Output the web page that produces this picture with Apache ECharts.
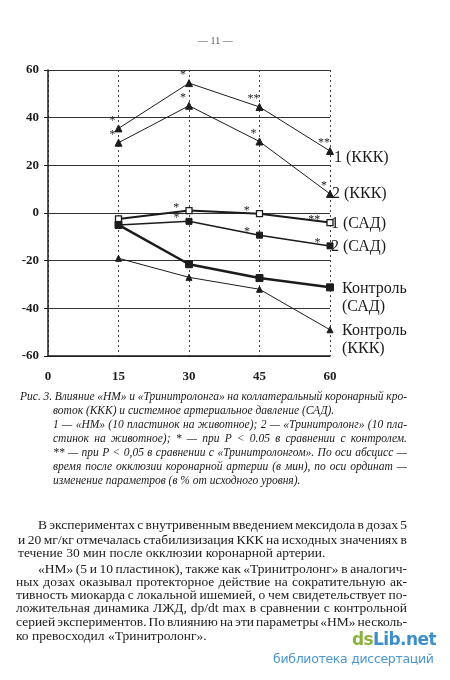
<!DOCTYPE html>
<html>
<head>
<meta charset="utf-8">
<script src="https://cdn.jsdelivr.net/npm/echarts@6/dist/echarts.min.js"></script>
<style>
  html, body { margin:0; padding:0; background:#fff; }
  #wrap { position:relative; width:450px; height:680px; overflow:hidden; }
  #chart { position:absolute; left:0; top:0; width:450px; height:680px; }
  .t { position:absolute; white-space:nowrap; color:#1a1a1a; }
  .cap { font-family:"Liberation Serif","DejaVu Serif",serif; font-style:italic; font-size:11.5px; line-height:14px; }
  .body { font-family:"Liberation Serif","DejaVu Serif",serif; font-size:13.5px; line-height:14px; color:#202020; }
</style>
</head>
<body>
<div id="wrap">
  <div id="chart"></div>
  <div class="t" style="left:198px;top:35px;font:10px 'Liberation Serif',serif;color:#555;">— 11 —</div>

  <div class="t cap j" data-w="387" style="left:20px;top:389px;">Рис. 3. Влияние «НМ» и «Тринитролонга» на коллатеральный коронарный кро-</div>
  <div class="t cap" style="left:53px;top:403px;">воток (ККК) и системное артериальное давление (САД).</div>
  <div class="t cap j" data-w="354" style="left:53px;top:417px;">1 — «НМ» (10 пластинок на животное); 2 — «Тринитролонг» (10 пла-</div>
  <div class="t cap j" data-w="354" style="left:53px;top:431px;">стинок на животное); * — при P &lt; 0.05 в сравнении с контролем.</div>
  <div class="t cap j" data-w="354" style="left:53px;top:445px;">** — при P &lt; 0,05 в сравнении с «Тринитролонгом». По оси абсцисс —</div>
  <div class="t cap j" data-w="354" style="left:53px;top:459px;">время после окклюзии коронарной артерии (в мин), по оси ординат —</div>
  <div class="t cap" style="left:53px;top:473px;">изменение параметров (в % от исходного уровня).</div>

  <div class="t body j" data-w="369" style="left:38px;top:518px;">В экспериментах с внутривенным введением мексидола в дозах 5</div>
  <div class="t body j" data-w="389" style="left:18px;top:533px;">и 20 мг/кг отмечалась стабилизизация ККК на исходных значениях в</div>
  <div class="t body" style="left:18px;top:546px;">течение 30 мин после окклюзии коронарной артерии.</div>
  <div class="t body j" data-w="369" style="left:38px;top:562px;">«НМ» (5 и 10 пластинок), также как «Тринитролонг» в аналогич-</div>
  <div class="t body j" data-w="391" style="left:16px;top:575px;">ных дозах оказывал протекторное действие на сократительную ак-</div>
  <div class="t body j" data-w="391" style="left:16px;top:588px;">тивность миокарда с локальной ишемией, о чем свидетельствует по-</div>
  <div class="t body j" data-w="391" style="left:16px;top:601px;">ложительная динамика ЛЖД, dp/dt max в сравнении с контрольной</div>
  <div class="t body j" data-w="391" style="left:16px;top:615px;">серией экспериментов. По влиянию на эти параметры «НМ» несколь-</div>
  <div class="t body" style="left:16px;top:629px;">ко превосходил «Тринитролонг».</div>

  <div class="t" style="left:352px;top:630px;font:bold 17px/19px 'DejaVu Sans',sans-serif;letter-spacing:-0.6px;"><span style="color:#8db23f;">ds</span><span style="color:#3d8fcc;">Lib.net</span></div>
  <div class="t" style="left:273px;top:652px;font:12.5px/14px 'DejaVu Sans',sans-serif;color:#4a96d0;letter-spacing:-0.3px;">библиотека диссертаций</div>
</div>
<script>
// fit justified lines to their target widths
document.querySelectorAll('.j').forEach(function (el) {
  const target = parseFloat(el.getAttribute('data-w'));
  const natural = el.getBoundingClientRect().width;
  const spaces = (el.textContent.match(/ /g) || []).length;
  if (spaces > 0) {
    let ws = (target - natural) / spaces;
    if (ws < -1.5) {
      const shrink = target / (natural - 1.5 * spaces);
      el.style.transformOrigin = 'left top';
      el.style.transform = 'scaleX(' + shrink + ')';
      ws = -1.5;
    }
    el.style.wordSpacing = ws + 'px';
  }
});

// ---- data ----
const times = [15, 30, 45, 60];
const xTickLabels = ['0', '15', '30', '45', '60'];
const seriesNames = ['1 (ККК)', '2 (ККК)', '1 (САД)', '2 (САД)', 'Контроль\n(САД)', 'Контроль\n(ККК)'];
const nmKKK   = [35.5, 54.5, 44.5, 26];
const trKKK   = [29.5, 45, 30, 8];
const nmSAD   = [-2.5, 1, -0.3, -4];
const trSAD   = [-5, -3.5, -9.3, -13.8];
const ctrlSAD = [-5, -21.5, -27.3, -31.2];
const ctrlKKK = [-19, -27, -32, -49];
// significance marks
const sigNmKKK = ['*', '*', '**', '**'];
const sigTrKKK = ['*', '*', '*', '*'];
const sigNmSAD = ['', '*', '*', '**'];
const sigTrSAD = ['', '*', '*', '*'];

const pairs = (vals) => times.map((t, i) => [t, vals[i]]);
const serifFont = '"Liberation Serif","DejaVu Serif",serif';
const ink = '#1c1c1c';

function endLbl(text, extra) {
  return Object.assign({
    show: true,
    formatter: () => text,
    color: ink,
    fontFamily: serifFont,
    fontSize: 16,
    lineHeight: 17,
    distance: 4,
    align: 'left'
  }, extra || {});
}

function sigLbl(sig, extra) {
  return Object.assign({
    show: true,
    formatter: (p) => sig[p.dataIndex],
    position: 'top',
    offset: [-6, 7],
    color: ink,
    fontFamily: serifFont,
    fontSize: 12
  }, extra || {});
}

function mk(name, vals, opts) {
  return Object.assign({
    type: 'line',
    name: name,
    data: pairs(vals),
    symbol: 'triangle',
    symbolSize: 7,
    lineStyle: { color: ink, width: 1 },
    itemStyle: { color: ink, borderColor: ink, borderWidth: 1 },
    z: 5,
    label: { show: false }
  }, opts);
}

const chart = echarts.init(document.getElementById('chart'), null, { renderer: 'canvas' });
chart.setOption({
  animation: false,
  backgroundColor: 'transparent',
  grid: { left: 48, right: 120, top: 70, bottom: 324 },
  xAxis: {
    type: 'value', min: 0, max: 60, interval: 15,
    axisLine: { show: true, onZero: false, lineStyle: { color: ink, width: 1.5 } },
    axisTick: { show: false },
    axisLabel: {
      margin: 14, color: ink, fontFamily: serifFont, fontWeight: 'bold', fontSize: 13,
      formatter: (v) => xTickLabels[times.indexOf(v) + 1] || '0'
    },
    splitLine: { show: true, lineStyle: { color: '#444', type: [2, 3], width: 1 } }
  },
  yAxis: {
    type: 'value', min: -60, max: 60, interval: 20,
    axisLine: { show: true, onZero: false, lineStyle: { color: ink, width: 1.5 } },
    axisTick: { show: true, length: 4, lineStyle: { color: ink } },
    axisLabel: { margin: 9, color: ink, fontFamily: serifFont, fontWeight: 'bold', fontSize: 13 },
    splitLine: { show: true, lineStyle: { color: '#333', width: 1.2 } }
  },
  series: [
    mk(seriesNames[0], nmKKK, {
      label: sigLbl(sigNmKKK),
      endLabel: endLbl(seriesNames[0], { offset: [0, 7] })
    }),
    mk(seriesNames[1], trKKK, {
      label: sigLbl(sigTrKKK),
      endLabel: endLbl(seriesNames[1], { offset: [-2, 0] })
    }),
    mk(seriesNames[2], nmSAD, {
      symbol: 'rect', symbolSize: 6,
      lineStyle: { color: ink, width: 2 },
      itemStyle: { color: '#fff', borderColor: ink, borderWidth: 1.3 },
      label: sigLbl(sigNmSAD, { position: 'left', offset: [-1, -3] }),
      endLabel: endLbl(seriesNames[2], { offset: [-3, 1] })
    }),
    mk(seriesNames[3], trSAD, {
      symbol: 'rect', symbolSize: 6,
      lineStyle: { color: ink, width: 1.5 },
      label: sigLbl(sigTrSAD, { position: 'left', offset: [-1, -3] }),
      endLabel: endLbl(seriesNames[3], { offset: [-3, 1] })
    }),
    mk(seriesNames[4], ctrlSAD, {
      symbol: 'rect', symbolSize: 7,
      lineStyle: { color: ink, width: 2.5 },
      endLabel: endLbl(seriesNames[4], { offset: [8, 10], lineHeight: 18 })
    }),
    mk(seriesNames[5], ctrlKKK, {
      symbol: 'triangle', symbolSize: 6,
      lineStyle: { color: ink, width: 1 },
      endLabel: endLbl(seriesNames[5], { offset: [8, 10], lineHeight: 18 })
    })
  ]
});
</script>
</body>
</html>
